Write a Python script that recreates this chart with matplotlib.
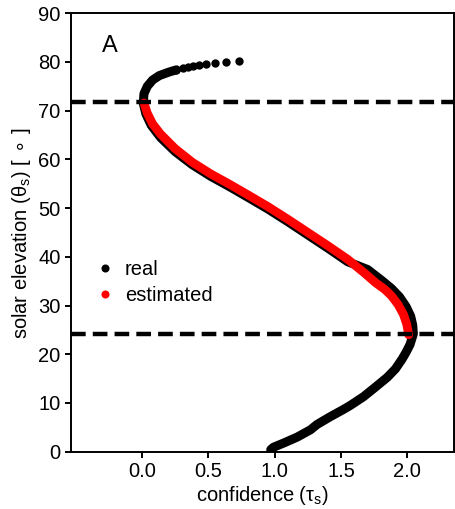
import matplotlib
matplotlib.use("Agg")
import matplotlib.pyplot as plt

plt.rcParams['font.family'] = ['Liberation Sans', 'DejaVu Sans']
plt.rcParams['mathtext.fontset'] = 'dejavusans'

# measured confidence vs solar elevation (bottom -> noon -> tail)
real_tau = [0.97, 0.99, 1.07, 1.17, 1.27, 1.32, 1.42, 1.52, 1.57, 1.67, 1.77,
            1.85, 1.91, 1.96, 1.99, 2.02, 2.045, 2.04, 2.025, 1.99, 1.94, 1.88,
            1.80, 1.70, 1.55, 1.40, 1.25, 1.10, 0.95, 0.80, 0.66, 0.52, 0.38,
            0.25, 0.14, 0.07, 0.03, 0.01, 0.015, 0.04, 0.08, 0.13, 0.20, 0.26,
            0.31, 0.345, 0.385, 0.43, 0.485, 0.55, 0.635, 0.73]
real_theta = [0.4, 0.9, 1.8, 3.0, 4.5, 5.6, 7.2, 8.7, 9.5, 11.3, 13.5,
              15.3, 17.0, 19.0, 20.4, 22.0, 24.2, 26.0, 27.8, 29.8, 31.8, 33.5,
              35.3, 37.4, 39.0, 41.8, 44.5, 47.2, 49.8, 52.2, 54.4, 56.5, 58.9,
              61.6, 64.5, 67.0, 69.3, 71.5, 73.5, 75.0, 76.3, 77.2, 77.9, 78.4,
              78.7, 78.9, 79.1, 79.3, 79.5, 79.7, 80.0, 80.3]

# model estimate over the same day
est_tau = [0.015, 0.04, 0.08, 0.14, 0.25, 0.38, 0.52, 0.66, 0.80, 0.95, 1.10,
           1.25, 1.40, 1.55, 1.68, 1.76, 1.83, 1.88, 1.93, 1.97, 1.995, 2.01]
est_theta = [71.6, 69.5, 67.3, 65.2, 62.2, 59.4, 57.0, 54.9, 52.7, 50.3, 47.7,
             45.0, 42.3, 39.5, 36.6, 34.7, 33.3, 32.0, 30.2, 28.2, 26.2, 24.0]

thresholds = [71.8, 24.2]

fig = plt.figure(figsize=(4.55, 5.09), dpi=100)
ax = fig.add_axes([0.156, 0.1126, 0.842, 0.8613])

n_dense = 44  # points that merge into a continuous band
ax.plot(real_tau[:n_dense], real_theta[:n_dense], '-', color='k', lw=6.5,
        solid_capstyle='round', solid_joinstyle='round')
ax.plot(real_tau[n_dense - 1:], real_theta[n_dense - 1:], 'o', color='k',
        ms=6.0, mew=0)
ax.plot(est_tau, est_theta, '-', color='red', lw=6.3,
        solid_capstyle='round', solid_joinstyle='round')
ax.plot([], [], 'o', color='k', ms=5.8, mew=0, label='real')
ax.plot([], [], 'o', color='red', ms=5.8, mew=0, label='estimated')

for t in thresholds:
    ax.axhline(t, color='k', lw=3.2, ls=(0, (3.3, 1.6)))

ax.text(-0.30, 82.0, 'A', fontsize=17)

ax.set_xlim(-0.535, 2.352)
ax.set_ylim(0, 90)
ax.set_xticks([0.0, 0.5, 1.0, 1.5, 2.0])
ax.set_yticks(range(0, 91, 10))
ax.tick_params(labelsize=14.5, width=1.4, length=4, direction='out')
for s in ax.spines.values():
    s.set_linewidth(1.4)

ax.set_xlabel('confidence (τ$_{\\mathregular{s}}$)', fontsize=14.5, labelpad=2)
ax.set_ylabel('solar elevation (θ$_{\\mathregular{s}}$) [$\\,\\circ\\,$]',
              fontsize=14.5)

ax.legend(loc='center left', bbox_to_anchor=(0.02, 0.385), frameon=False,
          fontsize=14.5, handlelength=0.8, handletextpad=0.6, labelspacing=0.35)

fig.savefig('out.png', dpi=100)
